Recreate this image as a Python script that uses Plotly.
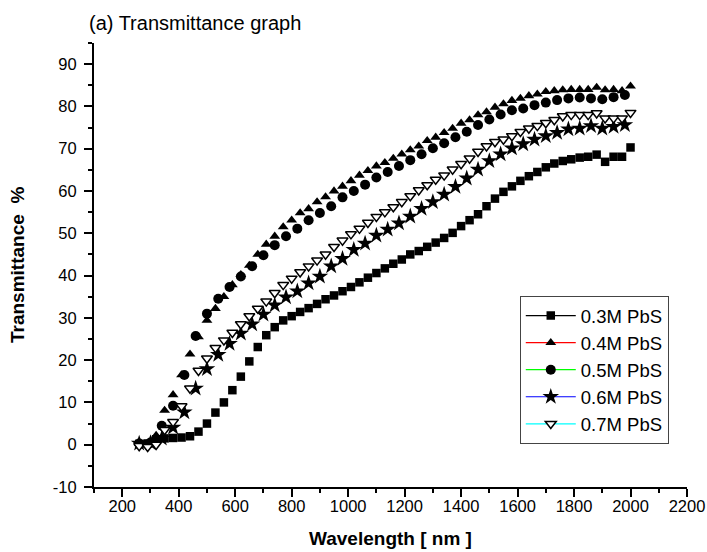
import plotly.graph_objects as go

# Wavelength grids (nm)
wl_30 = [260, 290, 320, 350, 380, 410, 440, 470, 500, 530, 560, 590, 620, 650, 680,
         710, 740, 770, 800, 830, 860, 890, 920, 950, 980, 1010, 1040, 1070, 1100,
         1130, 1160, 1190, 1220, 1250, 1280, 1310, 1340, 1370, 1400, 1430, 1460,
         1490, 1520, 1550, 1580, 1610, 1640, 1670, 1700, 1730, 1760, 1790, 1820,
         1850, 1880, 1910, 1940, 1970, 2000]
wl_40 = [260, 300, 340, 380, 420, 460, 500, 540, 580, 620, 660, 700, 740, 780, 820,
         860, 900, 940, 980, 1020, 1060, 1100, 1140, 1180, 1220, 1260, 1300, 1340,
         1380, 1420, 1460, 1500, 1540, 1580, 1620, 1660, 1700, 1740, 1780, 1820,
         1860, 1900, 1940, 1980]

# Transmittance (%)
t_03 = [0.2, 0.3, 1.3, 1.5, 1.6, 1.7, 2.0, 3.1, 5.0, 7.6,
        10.0, 12.9, 16.1, 19.7, 23.1, 25.9, 27.8, 29.4, 30.4, 31.4,
        32.3, 33.3, 34.4, 35.3, 36.3, 37.3, 38.4, 39.5, 40.6, 41.7,
        42.8, 43.8, 45.0, 45.8, 46.8, 47.8, 48.9, 50.1, 51.7, 53.1,
        54.5, 56.4, 58.2, 59.8, 61.1, 62.4, 63.5, 64.5, 65.6, 66.5,
        67.1, 67.5, 67.9, 68.1, 68.6, 66.9, 68.1, 68.1, 70.3]
t_04 = [0.3, 0.3, 2.2, 8.1, 11.8, 16.5, 21.4, 25.5, 29.4, 32.2,
        35.0, 37.8, 40.2, 42.4, 45.0, 47.4, 49.3, 51.5, 53.1, 54.8,
        55.8, 57.4, 58.6, 60.0, 61.1, 62.4, 63.7, 64.8, 65.9, 66.7,
        67.7, 68.7, 69.7, 70.6, 71.9, 72.7, 73.8, 74.8, 76.0, 76.8,
        78.0, 78.7, 79.8, 80.6, 81.4, 81.9, 82.5, 82.9, 83.5, 83.7,
        83.9, 84.0, 84.0, 84.0, 84.5, 83.9, 84.0, 83.7, 84.8]
t_05 = [0.3, 0.5, 4.5, 9.2, 16.5, 25.7, 31.0, 34.5, 37.3, 39.8,
        42.2, 44.8, 47.2, 49.3, 51.1, 53.1, 54.8, 56.4, 58.5, 60.0,
        61.5, 63.2, 64.5, 65.9, 67.3, 68.7, 70.1, 71.3, 72.7, 74.0,
        75.6, 76.9, 78.1, 79.1, 79.5, 80.3, 80.9, 81.5, 81.9, 82.1,
        81.9, 81.7, 82.2, 82.7]
t_06 = [0.3, 0.4, 1.5, 4.1, 7.7, 13.3, 17.9, 21.3, 23.9, 26.3,
        28.5, 30.8, 33.0, 34.9, 36.3, 38.2, 39.8, 42.2, 44.0, 46.1,
        47.6, 49.5, 50.9, 52.4, 54.0, 55.8, 57.4, 59.2, 61.0, 63.0,
        65.1, 67.1, 68.7, 70.1, 71.1, 72.2, 73.0, 73.8, 74.6, 74.8,
        75.4, 74.8, 75.2, 75.6]
t_07 = [-0.3, -0.5, 0.0, 3.5, 5.4, 9.1, 13.3, 17.5, 20.4, 22.9,
        24.7, 26.5, 28.5, 30.4, 32.2, 33.9, 35.9, 37.8, 39.3, 40.8,
        42.2, 43.6, 45.0, 46.8, 48.3, 49.8, 51.1, 52.5, 53.9, 55.0,
        56.2, 57.4, 58.8, 60.2, 61.4, 62.7, 63.7, 65.1, 66.4, 67.7,
        69.3, 70.6, 71.6, 72.2, 73.0, 74.0, 74.8, 75.4, 76.1, 76.8,
        77.7, 78.0, 78.0, 78.0, 78.4, 77.2, 77.2, 77.2, 78.5]

names = ["0.3M PbS", "0.4M PbS", "0.5M PbS", "0.6M PbS", "0.7M PbS"]
line_colors = ["#000000", "#ff0000", "#00ff00", "#0000ff", "#00ffff"]

x_ticks = [200, 400, 600, 800, 1000, 1200, 1400, 1600, 1800, 2000, 2200]
y_ticks = [-10, 0, 10, 20, 30, 40, 50, 60, 70, 80, 90]
y_tick_text = ["-10", "0", "10", "20", "30", "40", "50", "60", "70", "80", "90"]

series = [
    (wl_30, t_03, dict(symbol="square", size=8.5, color="black")),
    (wl_30, t_04, dict(symbol="triangle-up", size=9.5, color="black")),
    (wl_40, t_05, dict(symbol="circle", size=10, color="black")),
    (wl_40, t_06, dict(symbol="star", size=12.5, color="black")),
    (wl_30, t_07, dict(symbol="triangle-down", size=9.5, color="white",
                       line=dict(color="black", width=1.5))),
]

fig = go.Figure()
for (xs, ys, mk), nm in zip(series, names):
    fig.add_trace(go.Scatter(x=xs, y=ys, mode="markers", marker=mk,
                             showlegend=False, hoverinfo="x+y", name=nm))
# legend entries (line + marker, as in the original)
for (xs, ys, mk), nm, lc in zip(series, names, line_colors):
    fig.add_trace(go.Scatter(x=[None], y=[None], mode="lines+markers", name=nm,
                             marker=mk, line=dict(color=lc, width=1.2)))

font_family = "Arial, Liberation Sans, sans-serif"
fig.update_layout(
    width=707, height=552,
    margin=dict(l=94, r=20, t=43, b=65),
    paper_bgcolor="white", plot_bgcolor="white",
    font=dict(family=font_family, color="black", size=16),
    annotations=[
        dict(text="(a) Transmittance graph", xref="paper", yref="paper",
             x=0, y=1.0, xshift=-7, yshift=20, xanchor="left", yanchor="middle",
             showarrow=False, font=dict(size=20, family=font_family)),
        dict(text="<b>Wavelength [ nm ]</b>", xref="paper", yref="paper",
             x=0.5, y=0, yshift=-51, xanchor="center", yanchor="middle",
             showarrow=False, font=dict(size=19, family=font_family)),
        dict(text="<b>Transmittance  %</b>", xref="paper", yref="paper",
             x=0, y=0.5, xshift=-77, xanchor="center", yanchor="middle",
             textangle=-90, showarrow=False, font=dict(size=19, family=font_family)),
    ],
    legend=dict(x=0.718, y=0.43, xanchor="left", yanchor="top",
                bordercolor="#444444", borderwidth=1, bgcolor="white",
                font=dict(size=18.5, family=font_family),
                itemwidth=50, tracegroupgap=0),
    xaxis=dict(range=[100, 2200], tickmode="array", tickvals=x_ticks,
               automargin=False, ticklabeloverflow="allow",
               ticks="outside", ticklen=8, tickwidth=1.5, tickcolor="black",
               showline=True, linecolor="black", linewidth=2,
               showgrid=False, zeroline=False,
               tickfont=dict(size=16.5), ticklabelstandoff=-5,
               minor=dict(ticks="outside", ticklen=4, tickwidth=1.5,
                          tickcolor="black", dtick=100, showgrid=False)),
    yaxis=dict(range=[-10, 95], tickmode="array", tickvals=y_ticks,
               ticktext=y_tick_text, automargin=False,
               ticks="outside", ticklen=8, tickwidth=1.5, tickcolor="black",
               showline=True, linecolor="black", linewidth=2,
               showgrid=False, zeroline=False,
               tickfont=dict(size=16.5), ticklabelstandoff=4,
               minor=dict(ticks="outside", ticklen=4, tickwidth=1.5,
                          tickcolor="black", dtick=5, showgrid=False)),
)

# remove the default page margin so the 707x552 figure fills the window exactly
fig.write_html("out.html",
               config={"displayModeBar": False},
               post_script="document.body.style.margin='0';"
                           "document.documentElement.style.overflow='hidden';")
